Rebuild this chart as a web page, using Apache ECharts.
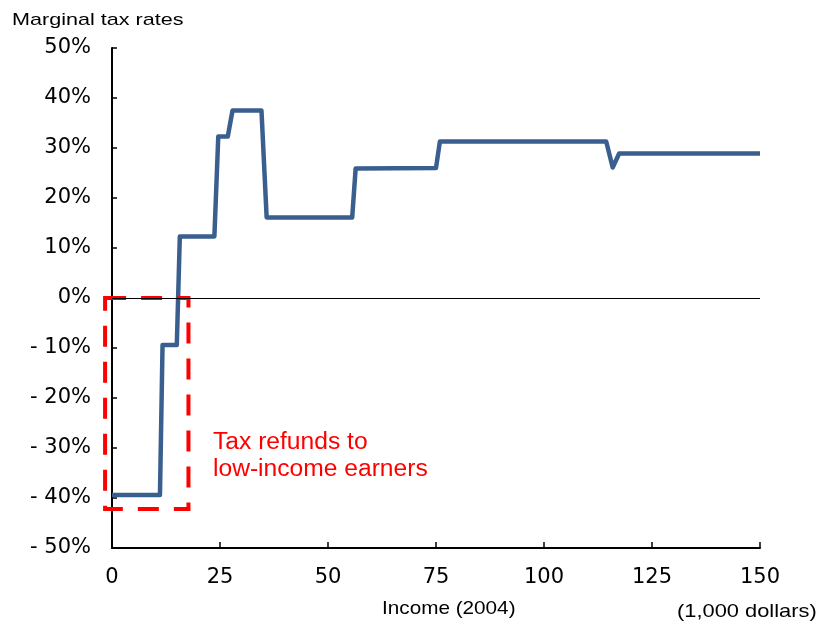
<!DOCTYPE html>
<html><head><meta charset="utf-8">
<script src="https://cdn.jsdelivr.net/npm/echarts@6/dist/echarts.min.js"></script>
<style>html,body{margin:0;padding:0;background:#fff}#c{width:819px;height:624px}</style>
</head><body><div id="c"></div>
<script>
const income = [0, 11.1, 11.7, 15.0, 15.7, 23.7, 24.6, 26.8, 27.9, 34.6, 35.8, 55.6, 56.4, 75.0, 75.9, 114.4, 115.9, 117.4, 150];
const rate = [-39.4, -39.4, -9.4, -9.4, 12.3, 12.3, 32.3, 32.3, 37.5, 37.5, 16.1, 16.1, 25.9, 26.0, 31.3, 31.3, 26.1, 28.9, 28.9];
const refundBox = [[-1.6, 0, 17.7, -42.2]];
const yTicks = [-50, -40, -30, -20, -10, 0, 10, 20, 30, 40, 50];
const xTicks = [0, 25, 50, 75, 100, 125, 150];
const annotation = 'Tax refunds to\nlow-income earners';

const font = '"Liberation Sans", Arial, sans-serif';
const tickFont = '"DejaVu Sans", sans-serif';
const chart = echarts.init(document.getElementById('c'));
chart.setOption({
  animation: false,
  grid: {left: 112, right: 59, top: 48, bottom: 76, containLabel: false},
  xAxis: {
    type: 'value', min: 0, max: 150, interval: 25,
    axisLine: {onZero: false, lineStyle: {color: '#000', width: 2}},
    axisTick: {inside: true, length: 6, lineStyle: {color: '#000', width: 1.5}},
    axisLabel: {color: '#000', fontSize: 21, fontFamily: tickFont, margin: 19,
      formatter: v => xTicks.includes(v) ? String(v) : ''},
    splitLine: {show: false}
  },
  yAxis: {
    type: 'value', min: -50, max: 50, interval: 10,
    axisLine: {show: true, lineStyle: {color: '#000', width: 2}},
    axisTick: {show: true, inside: true, length: 5, lineStyle: {color: '#000', width: 1.5}},
    axisLabel: {color: '#000', fontSize: 21, fontFamily: tickFont, margin: 21,
      formatter: v => yTicks.includes(v) ? (v < 0 ? '- ' + Math.abs(v) + '%' : v + '%') : ''},
    splitLine: {show: false}
  },
  graphic: [
    {type: 'text', x: 12, y: 12, scaleX: 1.27, style: {text: 'Marginal tax rates', fontSize: 17, fontFamily: font, fill: '#000'}},
    {type: 'text', x: 382, y: 599, scaleX: 1.09, style: {text: 'Income (2004)', fontSize: 19, fontFamily: font, fill: '#000'}},
    {type: 'text', x: 677, y: 602, scaleX: 1.15, style: {text: '(1,000 dollars)', fontSize: 19, fontFamily: font, fill: '#000'}},
    {type: 'text', x: 213, y: 429, scaleX: 1.07, style: {text: annotation, fontSize: 23, lineHeight: 27, fontFamily: font, fill: '#ff0000'}}
  ],
  series: [
    {
      type: 'line', data: income.map((x, i) => [x, rate[i]]), symbol: 'none',
      lineStyle: {color: '#3a5f8f', width: 4.5, join: 'round'}, z: 3,
      markLine: {silent: true, symbol: 'none', label: {show: false},
        lineStyle: {color: '#000', width: 1.2, type: 'solid'}, data: [{yAxis: 0}]}
    },
    {
      type: 'custom', clip: false, z: 4, data: refundBox,
      renderItem: (params, api) => {
        const p0 = api.coord([api.value(0), api.value(1)]);
        const p1 = api.coord([api.value(2), api.value(3)]);
        return {type: 'rect', shape: {x: p0[0], y: p0[1], width: p1[0] - p0[0], height: p1[1] - p0[1]},
          style: {fill: 'none', stroke: '#ff0000', lineWidth: 4, lineDash: [21, 15]}};
      }
    }
  ]
});
</script></body></html>
